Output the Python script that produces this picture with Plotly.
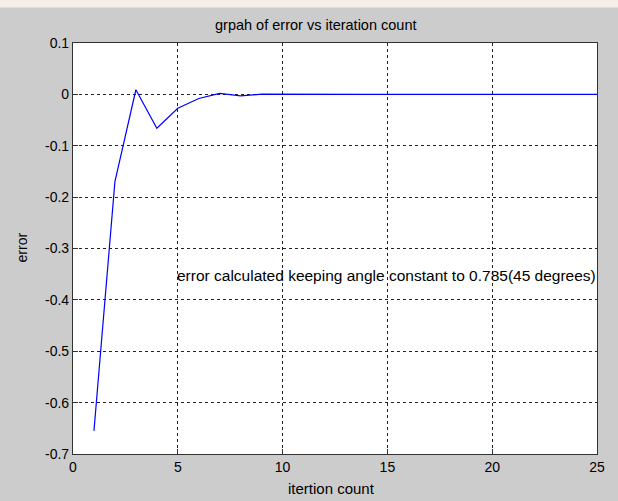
import plotly.graph_objects as go

iterations = list(range(1, 26))
error_vals = [-0.655, -0.17, 0.009, -0.066, -0.027, -0.008, 0.002, -0.003, 0.0003] + [0.0] * 16
x_ticks = [0, 5, 10, 15, 20, 25]
y_ticks = [0.1, 0, -0.1, -0.2, -0.3, -0.4, -0.5, -0.6, -0.7]
y_tick_labels = ["0.1", "0", "-0.1", "-0.2", "-0.3", "-0.4", "-0.5", "-0.6", "-0.7"]

title_text = "grpah of error vs iteration count"
x_label = "itertion count"
y_label = "error"
note_text = "error calculated keeping angle constant to 0.785(45 degrees)"

FONT = "Liberation Sans, Arial, sans-serif"
TXT = "#000000"

fig = go.Figure()
fig.add_trace(go.Scatter(x=iterations, y=error_vals, mode="lines",
                         line=dict(color="#0000ff", width=1.2), showlegend=False))

axis_common = dict(
    showgrid=True, gridcolor="#222222", gridwidth=1, griddash="3px,3px",
    zeroline=False, showline=True, linecolor="#333333", linewidth=1.2, mirror=True,
    ticks="inside", ticklen=5, tickcolor="#333333",
    tickfont=dict(family=FONT, size=14, color=TXT),
)

fig.update_xaxes(range=[0, 25], tickvals=x_ticks, **axis_common)
fig.update_yaxes(range=[-0.7, 0.1], tickvals=y_ticks, ticktext=y_tick_labels, **axis_common)

fig.add_annotation(x=5, y=-0.353, xref="x", yref="y", text=note_text, showarrow=False,
                   xanchor="left", yanchor="middle", xshift=-3,
                   font=dict(family=FONT, size=15.5, color=TXT))
fig.add_annotation(x=(331.7 - 73) / 524, y=(454.5 - 489) / 411.5, xref="paper", yref="paper",
                   text=x_label, showarrow=False, xanchor="center", yanchor="middle",
                   font=dict(family=FONT, size=15, color=TXT))
fig.add_annotation(x=(21.7 - 73) / 524, y=(454.5 - 248) / 411.5, xref="paper", yref="paper",
                   text=y_label, showarrow=False, xanchor="center", yanchor="middle",
                   textangle=-90, font=dict(family=FONT, size=14, color=TXT))
fig.add_annotation(x=(315.5 - 73) / 524, y=(454.5 - 25) / 411.5, xref="paper", yref="paper",
                   text=title_text, showarrow=False, xanchor="center", yanchor="middle",
                   font=dict(family=FONT, size=14.5, color=TXT))

# pale strip at the very top of the picture
fig.add_shape(type="rect", xref="paper", yref="paper", x0=-0.2, x1=1.2,
              y0=(454.5 - 7.5) / 411.5, y1=1.2, fillcolor="#f6eee8",
              line=dict(width=0), layer="above")

fig.update_layout(
    width=618, height=501,
    margin=dict(l=73, r=21, t=43, b=46.5),
    paper_bgcolor="#cccccc", plot_bgcolor="#ffffff",
    font=dict(family=FONT),
)

fig.write_html("out.html", config={"displayModeBar": False},
               post_script="document.body.style.margin='0';document.body.style.overflow='hidden';")
